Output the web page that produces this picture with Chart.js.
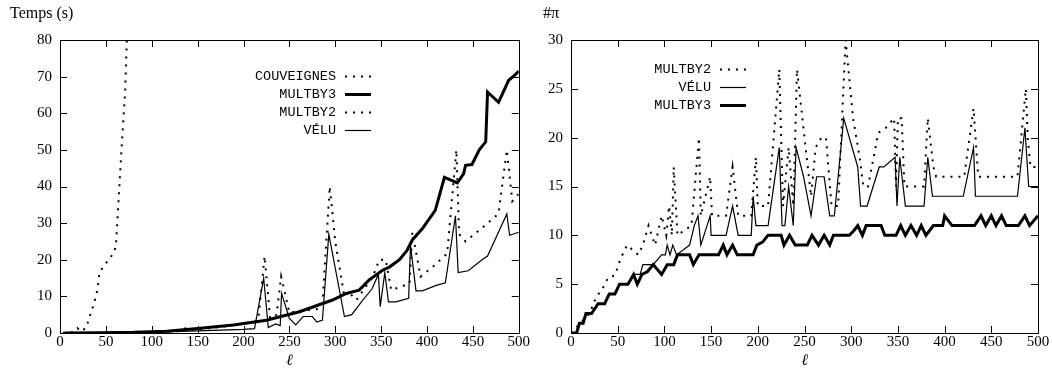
<!DOCTYPE html>
<html>
<head>
<meta charset="utf-8">
<script src="https://cdn.jsdelivr.net/npm/chart.js@4/dist/chart.umd.min.js"></script>
<style>
  html, body { margin: 0; padding: 0; background: #fff; }
  #wrap { position: relative; width: 1052px; height: 376px; }
  canvas { position: absolute; top: 0; }
  #timeChart { left: 0; }
  #isoChart { left: 530px; }
</style>
</head>
<body>
<div id="wrap">
  <canvas id="timeChart" width="530" height="376"></canvas>
  <canvas id="isoChart" width="522" height="376"></canvas>
</div>
<script>
// ---- left panel: running time (s) vs l ----
const couvL = [3, 5, 7, 11, 13, 17, 19, 23, 29, 31, 37, 41, 43, 47, 53, 59, 61, 67, 71, 73];
const couvT = [0.05, 0.05, 0.1, 0.2, 0.3, 0.6, 1.3, 0.4, 1.5, 3.6, 8, 12, 16.5, 18, 20, 22, 24, 50, 66, 81.5];

const mult3L = [5, 44, 80, 116, 153, 189, 225, 261, 297, 312, 326, 337, 352, 359, 370, 378, 384, 395, 409, 419, 433, 440, 442, 449, 457, 464, 466, 478, 489, 496, 500];
const mult3T = [0, 0.1, 0.2, 0.5, 1.3, 2.2, 3.5, 5.8, 9, 10.8, 11.7, 14.5, 17.2, 18, 20, 22.5, 25.4, 28.5, 33.5, 42.5, 41, 43.5, 45.8, 46, 50, 52.2, 65.8, 63, 69, 70.5, 71.5];

const mult2L = [5, 50, 100, 130, 137, 145, 180, 210, 216, 223, 229, 236, 241, 250, 260, 280, 286, 294, 300, 310, 314, 323, 341, 348, 355, 361, 381, 384, 393, 406, 422, 432, 435, 442, 464, 478, 487, 493, 500];
const mult2T = [0, 0.1, 0.3, 0.5, 1.3, 0.8, 1.8, 3, 3.5, 21, 4, 5, 15.4, 5.5, 6, 6.5, 8, 40, 25, 9.9, 11.3, 9, 15.4, 20, 20, 11.7, 13.5, 27.6, 15.4, 18, 21.7, 50, 27, 25, 29.5, 32.6, 50, 36, 38];

const veluL = [5, 100, 150, 200, 212, 222, 227, 235, 240, 241.5, 250, 257, 265, 275, 280, 286, 293, 310, 318, 330, 340, 347, 349, 354, 358, 366, 380, 382, 388, 395, 410, 420, 431, 434, 445, 460, 466, 487, 490, 500];
const veluT = [0, 0.2, 0.6, 1, 1.2, 15, 1.5, 2.5, 2, 10.8, 4, 2.2, 4.5, 4.5, 3, 3.5, 27, 4.5, 5, 9, 12, 16, 7.2, 16.5, 8.5, 8.5, 9.5, 24, 11.5, 11.5, 13, 13.7, 32, 16.5, 17, 20, 21, 32.5, 26.7, 27.5];

// ---- right panel: number of isogenies (#pi) vs l ----
const pi2L = [0, 10, 20, 27, 33, 40, 47, 53, 60, 72, 77, 83, 90, 97, 102, 105, 108, 110, 114, 121, 129, 137, 139, 149, 151, 166, 173, 179, 193, 198, 200, 211, 223, 227, 233, 238, 242, 250, 257, 262, 268, 273, 279, 286, 294, 302, 309, 313, 318, 329, 337, 346, 348, 350, 354, 357, 378, 382, 388, 391, 421, 431, 436, 478, 487, 489, 492, 500];
const pi2N = [0, 1, 2, 3.7, 4.4, 5.7, 5.9, 7.6, 9, 8, 9, 11, 9, 12, 10, 13, 10, 17, 10, 10.5, 11, 20, 12, 16, 12, 12, 17, 12, 12, 18, 13, 13, 27, 13, 19, 13, 27, 20, 14, 19, 20, 20, 13, 13, 30, 22, 18, 15, 15, 20.5, 21, 22, 15, 22, 22, 15, 15, 22, 17, 16, 16, 23, 16, 16, 25, 20, 17, 17];

const piVL = [0, 6, 9, 13, 16, 22, 29, 36, 41, 47, 52, 61, 67, 74, 77, 88, 97, 101, 103, 106, 109, 113, 127, 132, 136, 139, 149, 150, 166, 173, 179, 193, 195, 198, 211, 223, 226, 229, 233, 238, 241, 249, 257, 263, 271, 277, 282, 292, 307, 310, 317, 330, 335, 347, 349, 352, 358, 378, 382, 387, 420, 431, 433, 478, 486, 490, 500];
const piVN = [0, 0, 1, 1, 2, 2, 3, 3, 4, 4, 5, 5, 6, 6, 7, 7, 8, 8, 9, 8, 9, 8, 9, 11, 12, 9, 12, 10, 10, 13, 10, 10, 14, 11, 11, 19, 11, 11, 15, 11, 19, 16, 12, 16, 16, 12, 12, 22, 17, 13, 13, 17, 17, 18, 13, 18, 13, 13, 18, 14, 14, 19, 14, 14, 21, 15, 15];

const pi3L = [0, 6, 9, 13, 16, 22, 29, 36, 41, 47, 52, 61, 67, 71, 76, 82, 88, 97, 103, 110, 114, 127, 131, 137, 158, 163, 167, 173, 178, 195, 199, 205, 211, 225, 228, 234, 240, 253, 258, 265, 271, 277, 281, 298, 303, 307, 312, 316, 332, 336, 348, 353, 358, 364, 370, 375, 380, 388, 398, 400, 408, 432, 439, 444, 450, 455, 461, 466, 479, 486, 491, 500];
const pi3N = [0, 0, 1, 1, 2, 2, 3, 3, 4, 4, 5, 5, 6, 5, 6, 6.3, 7, 6, 7, 7, 8, 8, 7, 8, 8, 9, 8, 9, 8, 8, 9, 9.3, 10, 10, 9, 10, 9, 9, 10, 9, 10, 9, 10, 10, 10.5, 11, 10, 11, 11, 10, 10, 11, 10, 11, 10, 11, 10, 11, 11, 12, 11, 11, 12, 11, 12, 11, 12, 11, 11, 12, 11, 12];

const xTicks = [0, 50, 100, 150, 200, 250, 300, 350, 400, 450, 500];

const pts = (xs, ys) => xs.map((x, i) => ({ x: x, y: ys[i] }));

Chart.defaults.font.family = "'Liberation Serif', 'Times New Roman', serif";
Chart.defaults.font.size = 15;
Chart.defaults.color = '#000';

const DOTS = [2, 6];

function series(label, xs, ys, width, dash) {
  return {
    label: label,
    data: pts(xs, ys),
    borderColor: '#000',
    borderWidth: width,
    borderDash: dash || [],
    borderCapStyle: 'butt',
    borderJoinStyle: 'miter',
    pointRadius: 0,
    tension: 0,
    fill: false
  };
}

// frame, inward mirrored ticks, titles and in-plot legend (gnuplot look)
const gnuplotFrame = {
  id: 'gnuplotFrame',
  afterDraw(chart, args, opts) {
    const { ctx, chartArea: a, scales } = chart;
    const x = scales.x, y = scales.y;
    ctx.save();
    ctx.strokeStyle = '#000';
    ctx.lineWidth = 1;
    ctx.setLineDash([]);
    ctx.strokeRect(Math.round(a.left) + 0.5, Math.round(a.top) + 0.5,
                   Math.round(a.width), Math.round(a.height));
    ctx.beginPath();
    x.ticks.forEach(t => {
      const px = Math.round(x.getPixelForValue(t.value)) + 0.5;
      ctx.moveTo(px, a.bottom); ctx.lineTo(px, a.bottom - 7);
      ctx.moveTo(px, a.top); ctx.lineTo(px, a.top + 7);
    });
    y.ticks.forEach(t => {
      const py = Math.round(y.getPixelForValue(t.value)) + 0.5;
      ctx.moveTo(a.left, py); ctx.lineTo(a.left + 7, py);
      ctx.moveTo(a.right, py); ctx.lineTo(a.right - 7, py);
    });
    ctx.stroke();

    ctx.fillStyle = '#000';
    ctx.textBaseline = 'middle';
    ctx.font = "16px 'Liberation Serif', serif";
    ctx.textAlign = 'left';
    ctx.fillText(opts.yTitle, opts.yTitleX, 14);
    ctx.font = "italic 16px 'Liberation Serif', serif";
    ctx.textAlign = 'center';
    ctx.fillText('\u2113', (a.left + a.right) / 2, 361);

    ctx.font = "13.5px 'Liberation Mono', 'DejaVu Sans Mono', monospace";
    ctx.textAlign = 'right';
    opts.legend.forEach((name, i) => {
      const ds = chart.data.datasets.find(d => d.label === name);
      const ly = opts.legendY + i * opts.legendStep;
      ctx.fillText(name, opts.legendX, ly);
      ctx.beginPath();
      ctx.lineWidth = ds.borderWidth;
      ctx.setLineDash(ds.borderDash);
      ctx.moveTo(opts.legendX + 9, Math.round(ly) + 0.5);
      ctx.lineTo(opts.legendX + 35, Math.round(ly) + 0.5);
      ctx.stroke();
    });
    ctx.restore();
  }
};

function axes(yMax, yStep, yWidth) {
  return {
    x: {
      type: 'linear', min: 0, max: 500,
      afterBuildTicks: s => { s.ticks = xTicks.map(v => ({ value: v })); },
      afterFit: s => { s.height = 43; },
      grid: { display: false, drawTicks: false },
      border: { display: false },
      ticks: { padding: 0, maxRotation: 0, autoSkip: false }
    },
    y: {
      type: 'linear', min: 0, max: yMax,
      afterFit: s => { s.width = yWidth; },
      grid: { display: false, drawTicks: false },
      border: { display: false },
      ticks: { stepSize: yStep, padding: 8 }
    }
  };
}

new Chart(document.getElementById('timeChart'), {
  type: 'line',
  data: {
    datasets: [
      series('COUVEIGNES', couvL, couvT, 2, DOTS),
      series('MULTBY3', mult3L, mult3T, 3),
      series('MULTBY2', mult2L, mult2T, 2, DOTS),
      series('VÉLU', veluL, veluT, 1.2)
    ]
  },
  options: {
    responsive: false,
    animation: false,
    layout: { padding: { top: 40, right: 10, left: 0, bottom: 0 } },
    scales: axes(80, 10, 60),
    plugins: {
      legend: { display: false },
      tooltip: { enabled: false },
      gnuplotFrame: {
        yTitle: 'Temps (s)', yTitleX: 10,
        legend: ['COUVEIGNES', 'MULTBY3', 'MULTBY2', 'VÉLU'],
        legendX: 336, legendY: 76, legendStep: 18
      }
    }
  },
  plugins: [gnuplotFrame]
});

new Chart(document.getElementById('isoChart'), {
  type: 'line',
  data: {
    datasets: [
      series('MULTBY2', pi2L, pi2N, 2, DOTS),
      series('VÉLU', piVL, piVN, 1.2),
      series('MULTBY3', pi3L, pi3N, 3)
    ]
  },
  options: {
    responsive: false,
    animation: false,
    layout: { padding: { top: 40, right: 14, left: 0, bottom: 0 } },
    scales: axes(30, 5, 41),
    plugins: {
      legend: { display: false },
      tooltip: { enabled: false },
      gnuplotFrame: {
        yTitle: '#π', yTitleX: 13,
        legend: ['MULTBY2', 'VÉLU', 'MULTBY3'],
        legendX: 181, legendY: 69, legendStep: 18
      }
    }
  },
  plugins: [gnuplotFrame]
});
</script>
</body>
</html>
